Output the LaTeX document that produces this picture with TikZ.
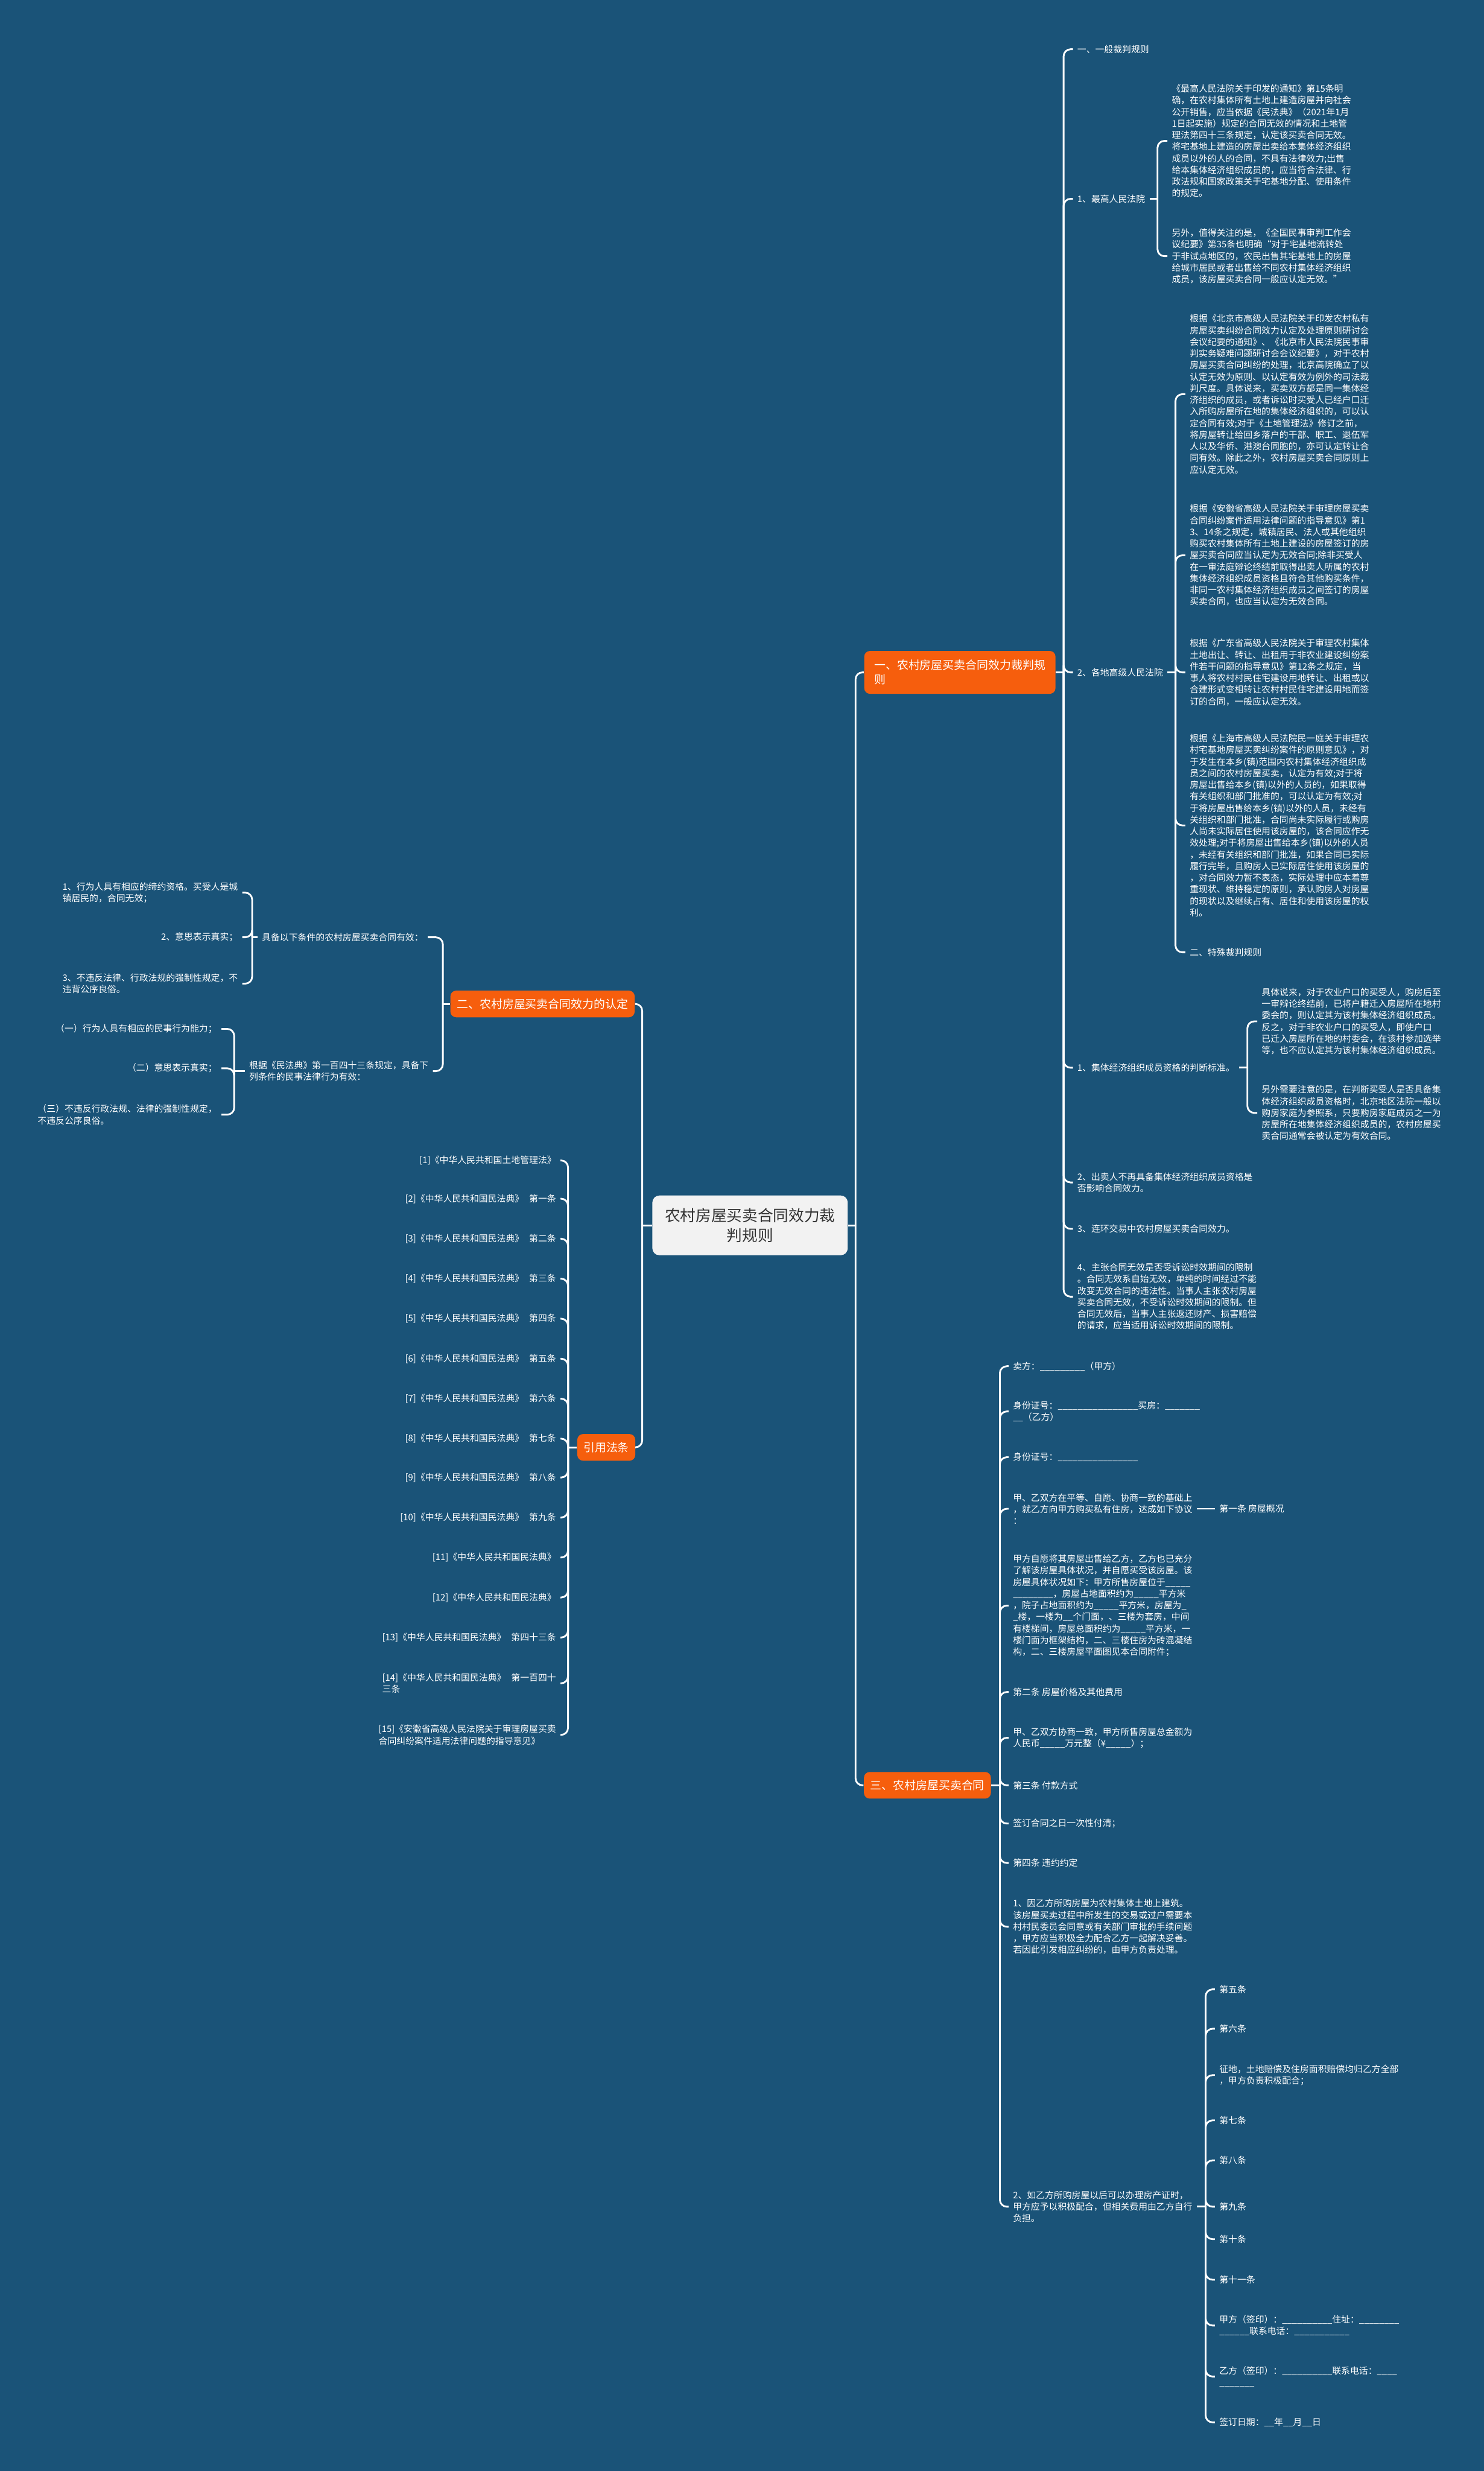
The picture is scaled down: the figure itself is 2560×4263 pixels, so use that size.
\documentclass[tikz,border=0pt]{standalone}
\usepackage{fontspec}
\setmainfont{Noto Sans CJK SC}
\usetikzlibrary{positioning}

\definecolor{mapbg}{HTML}{1A5378}
\definecolor{topicorange}{HTML}{F65E0D}
\definecolor{rootgray}{HTML}{F2F2F2}
\definecolor{roottext}{HTML}{333333}

\newcommand\leaffont{\fontsize{4.4pt}{5.7pt}\selectfont}
\newcommand\topicfont{\fontsize{5.6pt}{7.1pt}\selectfont}
\newcommand\rootfont{\fontsize{7.6pt}{10pt}\selectfont}
\newcommand\fillin[1]{\foreach \k in {1,...,#1}{\_}}

\begin{document}
\begin{tikzpicture}[
        x=0.1mm, y=-0.1mm,
        root/.style={rectangle, rounded corners=1.2mm, fill=rootgray, text=roottext, font=\rootfont, align=center, minimum width=33.7mm, minimum height=10.3mm, inner sep=0pt},
        topic/.style={rectangle, rounded corners=1mm, fill=topicorange, text=white, font=\topicfont, align=left, minimum height=4.6mm, inner xsep=1mm, inner ysep=0pt},
        leaf/.style={anchor=west, text=white, font=\leaffont, align=left, inner xsep=0.7mm, inner ysep=0.3mm},
        link/.style={draw=white, line width=0.3mm, rounded corners=1.2mm}
    ]

    % Background
    \fill[mapbg] (0,0) rectangle (2560,4263);
    \useasboundingbox (0,0) rectangle (2560,4263);

    % Root
    \node[root] (root) at (1294,2114) {农村房屋买卖合同效力裁\\判规则};

    % Topics
    \node[topic, minimum width=33mm, minimum height=7.4mm] (rules) at (1656,1160) {一、农村房屋买卖合同效力裁判规\\则};
    \node[topic, minimum width=31.8mm] (valid) at (936,1732) {二、农村房屋买卖合同效力的认定};
    \node[topic, minimum width=10mm] (laws) at (1046,2497) {引用法条};
    \node[topic, minimum width=21.9mm] (contract) at (1600,3080) {三、农村房屋买卖合同};

    % Topic one
    \node[leaf] (general) at (1851,85) {一、一般裁判规则};
    \node[leaf] (supreme) at (1851,343) {1、最高人民法院};
    \node[leaf] (supA) at (2014,243) {《最高人民法院关于印发的通知》第15条明\\确，在农村集体所有土地上建造房屋并向社会\\公开销售，应当依据《民法典》（2021年1月\\1日起实施）规定的合同无效的情况和土地管\\理法第四十三条规定，认定该买卖合同无效。\\将宅基地上建造的房屋出卖给本集体经济组织\\成员以外的人的合同，不具有法律效力;出售\\给本集体经济组织成员的，应当符合法律、行\\政法规和国家政策关于宅基地分配、使用条件\\的规定。};
    \node[leaf] (supB) at (2014,442) {另外，值得关注的是，《全国民事审判工作会\\议纪要》第35条也明确“对于宅基地流转处\\于非试点地区的，农民出售其宅基地上的房屋\\给城市居民或者出售给不同农村集体经济组织\\成员，该房屋买卖合同一般应认定无效。”};
    \node[leaf] (local) at (1851,1160) {2、各地高级人民法院};
    \node[leaf] (bj) at (2045,680) {根据《北京市高级人民法院关于印发农村私有\\房屋买卖纠纷合同效力认定及处理原则研讨会\\会议纪要的通知》、《北京市人民法院民事审\\判实务疑难问题研讨会会议纪要》，对于农村\\房屋买卖合同纠纷的处理，北京高院确立了以\\认定无效为原则、以认定有效为例外的司法裁\\判尺度。具体说来，买卖双方都是同一集体经\\济组织的成员，或者诉讼时买受人已经户口迁\\入所购房屋所在地的集体经济组织的，可以认\\定合同有效;对于《土地管理法》修订之前，\\将房屋转让给回乡落户的干部、职工、退伍军\\人以及华侨、港澳台同胞的，亦可认定转让合\\同有效。除此之外，农村房屋买卖合同原则上\\应认定无效。};
    \node[leaf] (ah) at (2045,958) {根据《安徽省高级人民法院关于审理房屋买卖\\合同纠纷案件适用法律问题的指导意见》第1\\3、14条之规定，城镇居民、法人或其他组织\\购买农村集体所有土地上建设的房屋签订的房\\屋买卖合同应当认定为无效合同;除非买受人\\在一审法庭辩论终结前取得出卖人所属的农村\\集体经济组织成员资格且符合其他购买条件，\\非同一农村集体经济组织成员之间签订的房屋\\买卖合同，也应当认定为无效合同。};
    \node[leaf] (gd) at (2045,1160) {根据《广东省高级人民法院关于审理农村集体\\土地出让、转让、出租用于非农业建设纠纷案\\件若干问题的指导意见》第12条之规定，当\\事人将农村村民住宅建设用地转让、出租或以\\合建形式变相转让农村村民住宅建设用地而签\\订的合同，一般应认定无效。};
    \node[leaf] (sh) at (2045,1424) {根据《上海市高级人民法院民一庭关于审理农\\村宅基地房屋买卖纠纷案件的原则意见》，对\\于发生在本乡(镇)范围内农村集体经济组织成\\员之间的农村房屋买卖，认定为有效;对于将\\房屋出售给本乡(镇)以外的人员的，如果取得\\有关组织和部门批准的，可以认定为有效;对\\于将房屋出售给本乡(镇)以外的人员，未经有\\关组织和部门批准，合同尚未实际履行或购房\\人尚未实际居住使用该房屋的，该合同应作无\\效处理;对于将房屋出售给本乡(镇)以外的人员\\，未经有关组织和部门批准，如果合同已实际\\履行完毕，且购房人已实际居住使用该房屋的\\，对合同效力暂不表态，实际处理中应本着尊\\重现状、维持稳定的原则，承认购房人对房屋\\的现状以及继续占有、居住和使用该房屋的权\\利。};
    \node[leaf] (special) at (2045,1643) {二、特殊裁判规则};
    \node[leaf] (member) at (1851,1842) {1、集体经济组织成员资格的判断标准。};
    \node[leaf] (memA) at (2169,1762) {具体说来，对于农业户口的买受人，购房后至\\一审辩论终结前，已将户籍迁入房屋所在地村\\委会的，则认定其为该村集体经济组织成员。\\反之，对于非农业户口的买受人，即使户口\\已迁入房屋所在地的村委会，在该村参加选举\\等，也不应认定其为该村集体经济组织成员。};
    \node[leaf] (memB) at (2169,1920) {另外需要注意的是，在判断买受人是否具备集\\体经济组织成员资格时，北京地区法院一般以\\购房家庭为参照系，只要购房家庭成员之一为\\房屋所在地集体经济组织成员的，农村房屋买\\卖合同通常会被认定为有效合同。};
    \node[leaf] (seller) at (1851,2040) {2、出卖人不再具备集体经济组织成员资格是\\否影响合同效力。};
    \node[leaf] (chain) at (1851,2120) {3、连环交易中农村房屋买卖合同效力。};
    \node[leaf] (limit) at (1851,2237) {4、主张合同无效是否受诉讼时效期间的限制\\。合同无效系自始无效，单纯的时间经过不能\\改变无效合同的违法性。当事人主张农村房屋\\买卖合同无效，不受诉讼时效期间的限制。但\\合同无效后，当事人主张返还财产、损害赔偿\\的请求，应当适用诉讼时效期间的限制。};

    % Topic two
    \node[leaf, anchor=east] (condA) at (738,1617) {具备以下条件的农村房屋买卖合同有效：};
    \node[leaf, anchor=east] (condB) at (747,1848) {根据《民法典》第一百四十三条规定，具备下\\列条件的民事法律行为有效：};
    \node[leaf, anchor=east] (qualA) at (418,1540) {1、行为人具有相应的缔约资格。买受人是城\\镇居民的，合同无效；};
    \node[leaf, anchor=east] (qualB) at (418,1617) {2、意思表示真实；};
    \node[leaf, anchor=east] (qualC) at (418,1697) {3、不违反法律、行政法规的强制性规定，不\\违背公序良俗。};
    \node[leaf, anchor=east] (civA) at (382,1775) {（一）行为人具有相应的民事行为能力；};
    \node[leaf, anchor=east] (civB) at (382,1843) {（二）意思表示真实；};
    \node[leaf, anchor=east] (civC) at (382,1923) {（三）不违反行政法规、法律的强制性规定，\\不违反公序良俗。};

    % Cited laws
    \node[leaf, anchor=east] (ref1) at (967,2002) {[1]《中华人民共和国土地管理法》};
    \node[leaf, anchor=east] (ref2) at (967,2068) {[2]《中华人民共和国民法典》\hspace{0.6em}第一条};
    \node[leaf, anchor=east] (ref3) at (967,2137) {[3]《中华人民共和国民法典》\hspace{0.6em}第二条};
    \node[leaf, anchor=east] (ref4) at (967,2206) {[4]《中华人民共和国民法典》\hspace{0.6em}第三条};
    \node[leaf, anchor=east] (ref5) at (967,2275) {[5]《中华人民共和国民法典》\hspace{0.6em}第四条};
    \node[leaf, anchor=east] (ref6) at (967,2344) {[6]《中华人民共和国民法典》\hspace{0.6em}第五条};
    \node[leaf, anchor=east] (ref7) at (967,2413) {[7]《中华人民共和国民法典》\hspace{0.6em}第六条};
    \node[leaf, anchor=east] (ref8) at (967,2482) {[8]《中华人民共和国民法典》\hspace{0.6em}第七条};
    \node[leaf, anchor=east] (ref9) at (967,2549) {[9]《中华人民共和国民法典》\hspace{0.6em}第八条};
    \node[leaf, anchor=east] (ref10) at (967,2618) {[10]《中华人民共和国民法典》\hspace{0.6em}第九条};
    \node[leaf, anchor=east] (ref11) at (967,2687) {[11]《中华人民共和国民法典》};
    \node[leaf, anchor=east] (ref12) at (967,2756) {[12]《中华人民共和国民法典》};
    \node[leaf, anchor=east] (ref13) at (967,2825) {[13]《中华人民共和国民法典》\hspace{0.6em}第四十三条};
    \node[leaf, anchor=east] (ref14) at (967,2904) {[14]《中华人民共和国民法典》\hspace{0.6em}第一百四十\\三条};
    \node[leaf, anchor=east] (ref15) at (967,2993) {[15]《安徽省高级人民法院关于审理房屋买卖\\合同纠纷案件适用法律问题的指导意见》};

    % Topic three
    \node[leaf] (sellerName) at (1740,2357) {卖方：\fillin{9}（甲方）};
    \node[leaf] (buyerId) at (1740,2435) {身份证号：\fillin{16}买房：\fillin{7}\\\fillin{2}（乙方）};
    \node[leaf] (sellerId) at (1740,2514) {身份证号：\fillin{16}};
    \node[leaf] (agree) at (1740,2603) {甲、乙双方在平等、自愿、协商一致的基础上\\，就乙方向甲方购买私有住房，达成如下协议\\：};
    \node[leaf] (art1) at (2096,2603) {第一条 房屋概况};
    \node[leaf] (houseInfo) at (1740,2770) {甲方自愿将其房屋出售给乙方，乙方也已充分\\了解该房屋具体状况，并自愿买受该房屋。该\\房屋具体状况如下：甲方所售房屋位于\fillin{5}\\\fillin{8}，房屋占地面积约为\fillin{5}平方米\\，院子占地面积约为\fillin{5}平方米，房屋为\fillin{1}\\\fillin{1}楼，一楼为\fillin{2}个门面，、三楼为套房，中间\\有楼梯间，房屋总面积约为\fillin{5}平方米，一\\楼门面为框架结构，二、三楼住房为砖混凝结\\构，二、三楼房屋平面图见本合同附件；};
    \node[leaf] (art2) at (1740,2919) {第二条 房屋价格及其他费用};
    \node[leaf] (price) at (1740,2998) {甲、乙双方协商一致，甲方所售房屋总金额为\\人民币\fillin{5}万元整（¥\fillin{5}）；};
    \node[leaf] (art3) at (1740,3080) {第三条 付款方式};
    \node[leaf] (payOnce) at (1740,3146) {签订合同之日一次性付清；};
    \node[leaf] (art4) at (1740,3214) {第四条 违约约定};
    \node[leaf] (breachA) at (1740,3324) {1、因乙方所购房屋为农村集体土地上建筑。\\该房屋买卖过程中所发生的交易或过户需要本\\村村民委员会同意或有关部门审批的手续问题\\，甲方应当积极全力配合乙方一起解决妥善。\\若因此引发相应纠纷的，由甲方负责处理。};
    \node[leaf] (breachB) at (1740,3807) {2、如乙方所购房屋以后可以办理房产证时，\\甲方应予以积极配合，但相关费用由乙方自行\\负担。};
    \node[leaf] (art5) at (2096,3432) {第五条};
    \node[leaf] (art6) at (2096,3500) {第六条};
    \node[leaf] (expro) at (2096,3580) {征地，土地赔偿及住房面积赔偿均归乙方全部\\，甲方负责积极配合；};
    \node[leaf] (art7) at (2096,3658) {第七条};
    \node[leaf] (art8) at (2096,3727) {第八条};
    \node[leaf] (art9) at (2096,3807) {第九条};
    \node[leaf] (art10) at (2096,3863) {第十条};
    \node[leaf] (art11) at (2096,3933) {第十一条};
    \node[leaf] (signA) at (2096,4012) {甲方（签印）：\fillin{10}住址：\fillin{8}\\\fillin{6}联系电话：\fillin{11}};
    \node[leaf] (signB) at (2096,4100) {乙方（签印）：\fillin{10}联系电话：\fillin{4}\\\fillin{7}};
    \node[leaf] (signDate) at (2096,4179) {签订日期：\fillin{2}年\fillin{2}月\fillin{2}日};

    % Links from root
    \coordinate (rj) at (1476,2114);
    \coordinate (lj) at (1108,2114);
    \draw[link] (root) -- (rj);
    \draw[link] (root) -- (lj);
    \foreach \n in {rules,contract} \draw[link] (rj) |- (\n.west);
    \foreach \n in {valid,laws} \draw[link] (lj) |- (\n.east);

    % Links, topic one
    \coordinate (j1) at (1835,1160);
    \draw[link] (rules) -- (j1);
    \foreach \n in {general,supreme,local,member,seller,chain,limit} \draw[link] (j1) |- (\n.west);
    \coordinate (j2) at (1997,343);
    \draw[link] (supreme) -- (j2);
    \foreach \n in {supA,supB} \draw[link] (j2) |- (\n.west);
    \coordinate (j3) at (2028,1160);
    \draw[link] (local) -- (j3);
    \foreach \n in {bj,ah,gd,sh,special} \draw[link] (j3) |- (\n.west);
    \coordinate (j4) at (2152,1842);
    \draw[link] (member) -- (j4);
    \foreach \n in {memA,memB} \draw[link] (j4) |- (\n.west);

    % Links, topic two
    \coordinate (j5) at (764,1732);
    \draw[link] (valid) -- (j5);
    \foreach \n in {condA,condB} \draw[link] (j5) |- (\n.east);
    \coordinate (j6) at (435,1617);
    \draw[link] (condA) -- (j6);
    \foreach \n in {qualA,qualB,qualC} \draw[link] (j6) |- (\n.east);
    \coordinate (j7) at (404,1848);
    \draw[link] (condB) -- (j7);
    \foreach \n in {civA,civB,civC} \draw[link] (j7) |- (\n.east);

    % Links, cited laws
    \coordinate (j8) at (980,2497);
    \draw[link] (laws) -- (j8);
    \foreach \n in {1,...,15} \draw[link] (j8) |- (ref\n.east);

    % Links, topic three
    \coordinate (j9) at (1725,3080);
    \draw[link] (contract) -- (j9);
    \foreach \n in {sellerName,buyerId,sellerId,agree,houseInfo,art2,price,art3,payOnce,art4,breachA,breachB} \draw[link] (j9) |- (\n.west);
    \draw[link] (agree) -- (art1);
    \coordinate (j10) at (2080,3807);
    \draw[link] (breachB) -- (j10);
    \foreach \n in {art5,art6,expro,art7,art8,art9,art10,art11,signA,signB,signDate} \draw[link] (j10) |- (\n.west);

\end{tikzpicture}
\end{document}
